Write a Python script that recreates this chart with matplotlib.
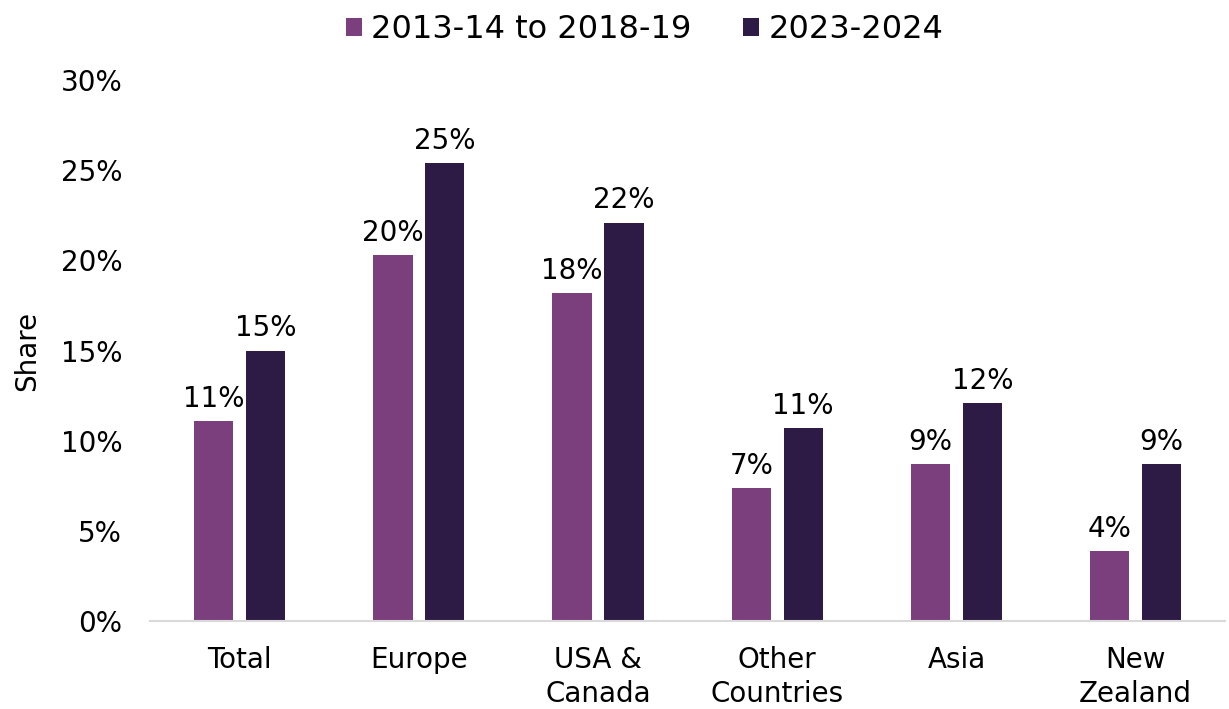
import numpy as np
import matplotlib.pyplot as plt
from matplotlib.ticker import PercentFormatter

categories = ["Total", "Europe", "USA &\nCanada", "Other\nCountries", "Asia", "New\nZealand"]
series_names = ["2013-14 to 2018-19", "2023-2024"]
early = [11.1, 20.3, 18.2, 7.4, 8.7, 3.9]
recent = [15.0, 25.4, 22.1, 10.7, 12.1, 8.7]
colors = ["#7B3F7E", "#2D1B45"]

plt.rcParams["font.family"] = ["DejaVu Sans"]

fig = plt.figure(figsize=(12.29, 7.09), dpi=100)
ax = fig.add_axes([0.122, 0.124, 0.875, 0.763])

x = np.arange(len(categories))
w = 0.22
off = 0.145
for vals, dx, col, name in [(early, -off, colors[0], series_names[0]),
                            (recent, off, colors[1], series_names[1])]:
    bars = ax.bar(x + dx, vals, width=w, color=col, label=name, zorder=2)
    for b, v in zip(bars, vals):
        ax.text(b.get_x() + b.get_width() / 2, v + 0.45, f"{v:.0f}%",
                ha="center", va="bottom", fontsize=20)

ax.set_xlim(-0.5, len(categories) - 0.5)
ax.set_ylim(0, 30)
ax.set_yticks(range(0, 31, 5))
ax.yaxis.set_major_formatter(PercentFormatter(decimals=0))
ax.set_xticks(x)
ax.set_xticklabels(categories, fontsize=20, linespacing=1.25)
ax.tick_params(axis="y", labelsize=20, length=0, pad=20)
ax.tick_params(axis="x", length=0, pad=18)
ax.set_ylabel("Share", fontsize=20, labelpad=14)

for s in ["top", "right", "left"]:
    ax.spines[s].set_visible(False)
ax.spines["bottom"].set_color("#D9D9D9")
ax.spines["bottom"].set_linewidth(1.5)

ax.legend(loc="lower center", bbox_to_anchor=(0.46, 1.065), ncol=2, frameon=False,
          fontsize=23, handlelength=0.5, handleheight=0.5, handletextpad=0.3,
          columnspacing=1.6, borderaxespad=0.0, borderpad=0.0)

fig.savefig("out.png", dpi=100)
